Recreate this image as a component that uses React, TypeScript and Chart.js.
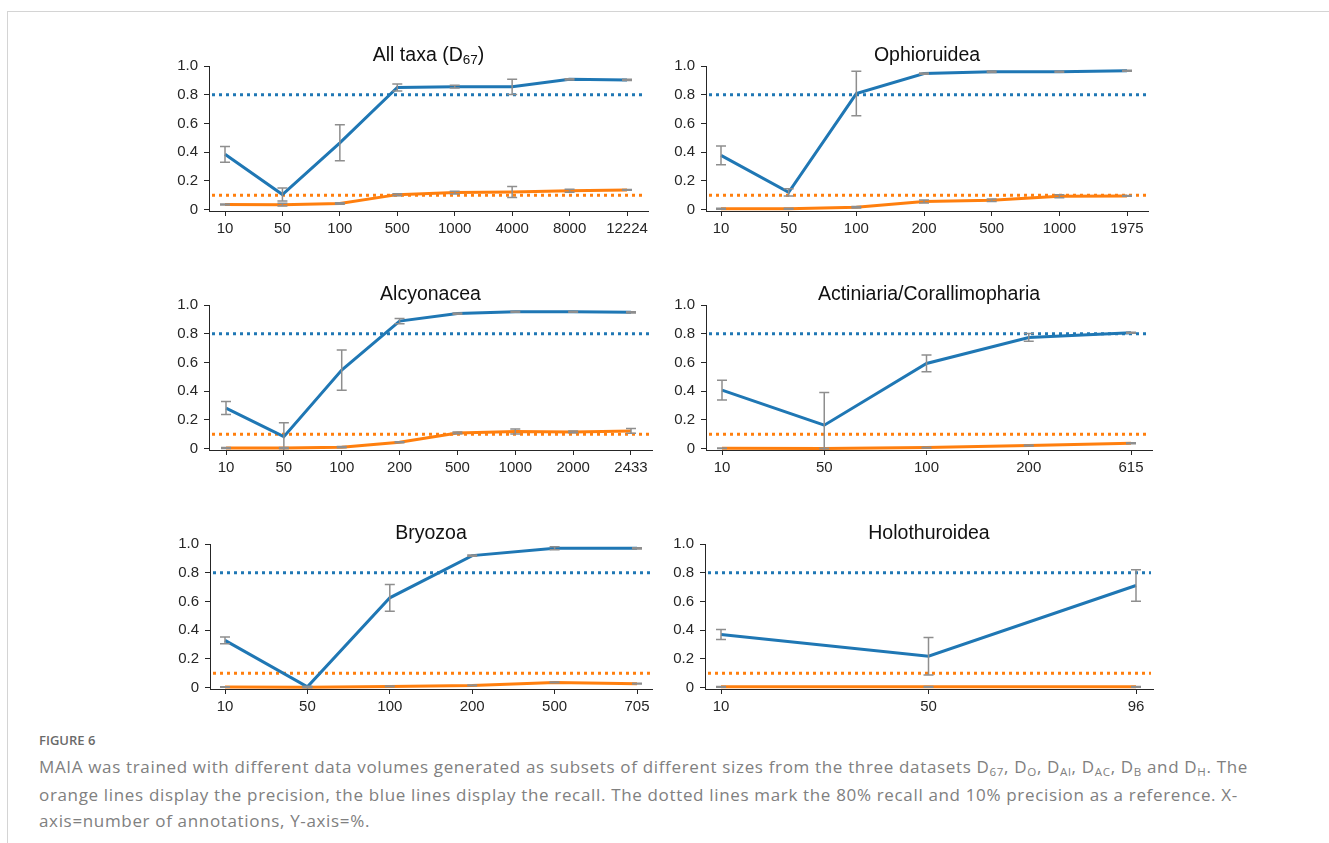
import React, { useEffect, useRef } from "react";
import { Chart, registerables } from "chart.js";

Chart.register(...registerables);

// ---------- styling constants ----------
const RECALL_COLOR = "#1f77b4";
const PRECISION_COLOR = "#ff7f0e";
const ERR_COLOR = "#8e8e8e";
const AXIS_COLOR = "#262626";
const FONT = "'Liberation Sans', Arial, Helvetica, sans-serif";

// reference thresholds
const RECALL_REF = 0.8;
const PRECISION_REF = 0.1;
const Y_TICKS = [0, 0.2, 0.4, 0.6, 0.8, 1.0];

// ---------- data ----------
// All taxa (D67)
const allTaxaLabels = ["10", "50", "100", "500", "1000", "4000", "8000", "12224"];
const allTaxaRecall = [0.385, 0.105, 0.465, 0.85, 0.856, 0.855, 0.907, 0.903];
const allTaxaRecallErr = [0.055, 0.045, 0.125, 0.024, 0.01, 0.053, 0.005, 0.004];
const allTaxaPrecision = [0.035, 0.034, 0.042, 0.104, 0.118, 0.122, 0.131, 0.137];
const allTaxaPrecisionErr = [0.003, 0.01, 0.005, 0.007, 0.01, 0.038, 0.01, 0.003];

// Ophioruidea
const ophLabels = ["10", "50", "100", "200", "500", "1000", "1975"];
const ophRecall = [0.377, 0.12, 0.808, 0.947, 0.96, 0.96, 0.967];
const ophRecallErr = [0.065, 0.025, 0.155, 0.004, 0.005, 0.004, 0.003];
const ophPrecision = [0.006, 0.006, 0.016, 0.056, 0.065, 0.093, 0.095];
const ophPrecisionErr = [0.003, 0.004, 0.005, 0.01, 0.008, 0.01, 0.003];

// Alcyonacea
const alcLabels = ["10", "50", "100", "200", "500", "1000", "2000", "2433"];
const alcRecall = [0.282, 0.083, 0.547, 0.888, 0.94, 0.953, 0.953, 0.949];
const alcRecallErr = [0.045, 0.097, 0.14, 0.018, 0.004, 0.004, 0.004, 0.004];
const alcPrecision = [0.004, 0.004, 0.01, 0.044, 0.109, 0.119, 0.116, 0.123];
const alcPrecisionErr = [0.003, 0.003, 0.004, 0.004, 0.006, 0.018, 0.006, 0.017];

// Actiniaria/Corallimopharia
const actLabels = ["10", "50", "100", "200", "615"];
const actRecall = [0.407, 0.163, 0.593, 0.774, 0.807];
const actRecallErr = [0.068, 0.228, 0.058, 0.027, 0.004];
const actPrecision = [0.002, 0.0, 0.007, 0.021, 0.037];
const actPrecisionErr = [0.002, 0.002, 0.003, 0.003, 0.003];

// Bryozoa
const bryLabels = ["10", "50", "100", "200", "500", "705"];
const bryRecall = [0.329, 0.005, 0.625, 0.919, 0.97, 0.97];
const bryRecallErr = [0.024, 0.004, 0.093, 0.004, 0.01, 0.004];
const bryPrecision = [0.004, 0.002, 0.008, 0.015, 0.036, 0.027];
const bryPrecisionErr = [0.002, 0.002, 0.003, 0.003, 0.003, 0.003];

// Holothuroidea
const holLabels = ["10", "50", "96"];
const holRecall = [0.369, 0.218, 0.711];
const holRecallErr = [0.035, 0.13, 0.11];
const holPrecision = [0.005, 0.005, 0.005];
const holPrecisionErr = [0.002, 0.002, 0.002];

type TitlePart = { text: string; sub?: boolean };

const PANELS = [
  {
    title: [{ text: "All taxa (D" }, { text: "67", sub: true }, { text: ")" }] as TitlePart[],
    labels: allTaxaLabels, recall: allTaxaRecall, recallErr: allTaxaRecallErr,
    precision: allTaxaPrecision, precisionErr: allTaxaPrecisionErr,
  },
  {
    title: [{ text: "Ophioruidea" }] as TitlePart[],
    labels: ophLabels, recall: ophRecall, recallErr: ophRecallErr,
    precision: ophPrecision, precisionErr: ophPrecisionErr,
  },
  {
    title: [{ text: "Alcyonacea" }] as TitlePart[],
    labels: alcLabels, recall: alcRecall, recallErr: alcRecallErr,
    precision: alcPrecision, precisionErr: alcPrecisionErr,
  },
  {
    title: [{ text: "Actiniaria/Corallimopharia" }] as TitlePart[],
    labels: actLabels, recall: actRecall, recallErr: actRecallErr,
    precision: actPrecision, precisionErr: actPrecisionErr,
  },
  {
    title: [{ text: "Bryozoa" }] as TitlePart[],
    labels: bryLabels, recall: bryRecall, recallErr: bryRecallErr,
    precision: bryPrecision, precisionErr: bryPrecisionErr,
  },
  {
    title: [{ text: "Holothuroidea" }] as TitlePart[],
    labels: holLabels, recall: holRecall, recallErr: holRecallErr,
    precision: holPrecision, precisionErr: holPrecisionErr,
  },
];

// ---------- layout (pixel geometry of each plot area) ----------
const PLOT_H = 145;
const BOXES = [
  { left: 209, right: 648, top: 66, padL: 16, padR: 21 },
  { left: 706, right: 1148, top: 66, padL: 15, padR: 21 },
  { left: 209, right: 652, top: 305, padL: 17, padR: 21 },
  { left: 706, right: 1152, top: 305, padL: 16, padR: 21 },
  { left: 210, right: 652, top: 544, padL: 15, padR: 15 },
  { left: 705, right: 1153, top: 544, padL: 16, padR: 17 },
];
const AXIS_W = 70;
const TITLE_H = 40;
const XAXIS_H = 35;
const RIGHT_PAD = 15;

const refLinesPlugin = {
  id: "refLines",
  beforeDatasetsDraw(chart: any) {
    const { ctx, chartArea, scales } = chart;
    const y = scales.y;
    const lines = [
      { v: RECALL_REF, c: RECALL_COLOR },
      { v: PRECISION_REF, c: PRECISION_COLOR },
    ];
    ctx.save();
    ctx.lineWidth = 3;
    ctx.setLineDash([3, 4]);
    for (const l of lines) {
      const py = y.getPixelForValue(l.v);
      ctx.strokeStyle = l.c;
      ctx.beginPath();
      ctx.moveTo(chartArea.left + 3, py);
      ctx.lineTo(chartArea.right - 2, py);
      ctx.stroke();
    }
    ctx.restore();
  },
};

const errorBarPlugin = {
  id: "errorBars",
  afterDatasetsDraw(chart: any) {
    const { ctx, chartArea, scales } = chart;
    const xs = scales.x;
    const ys = scales.y;
    ctx.save();
    ctx.beginPath();
    ctx.rect(chartArea.left - 10, chartArea.top - 2, chartArea.right - chartArea.left + 20, chartArea.bottom - chartArea.top + 2);
    ctx.clip();
    ctx.strokeStyle = ERR_COLOR;
    ctx.lineWidth = 1.5;
    chart.data.datasets.forEach((ds: any) => {
      if (!ds.errors) return;
      ds.data.forEach((pt: any, i: number) => {
        const e = ds.errors[i];
        const px = xs.getPixelForValue(pt.x);
        const top = ys.getPixelForValue(pt.y + e);
        const bot = ys.getPixelForValue(pt.y - e);
        ctx.beginPath();
        ctx.moveTo(px, top);
        ctx.lineTo(px, bot);
        ctx.moveTo(px - 5, top);
        ctx.lineTo(px + 5, top);
        ctx.moveTo(px - 5, bot);
        ctx.lineTo(px + 5, bot);
        ctx.stroke();
      });
    });
    ctx.restore();
  },
};

const titlePlugin = {
  id: "panelTitle",
  afterDraw(chart: any, _args: any, opts: any) {
    const parts: TitlePart[] = opts.parts || [];
    const { ctx, chartArea } = chart;
    const mainFont = `19.5px ${FONT}`;
    const subFont = `13.5px ${FONT}`;
    ctx.save();
    let total = 0;
    for (const p of parts) {
      ctx.font = p.sub ? subFont : mainFont;
      total += ctx.measureText(p.text).width;
    }
    let x = (chartArea.left + chartArea.right) / 2 - total / 2;
    const base = chartArea.top - 5.5;
    ctx.fillStyle = "#111";
    ctx.textBaseline = "alphabetic";
    ctx.textAlign = "left";
    for (const p of parts) {
      ctx.font = p.sub ? subFont : mainFont;
      ctx.fillText(p.text, x, p.sub ? base + 3.5 : base);
      x += ctx.measureText(p.text).width;
    }
    ctx.restore();
  },
};

function Panel({ idx }: { idx: number }) {
  const ref = useRef<HTMLCanvasElement | null>(null);
  const p = PANELS[idx];
  const b = BOXES[idx];
  const width = b.right - b.left + AXIS_W + RIGHT_PAD;
  const height = PLOT_H + TITLE_H + XAXIS_H;

  useEffect(() => {
    if (!ref.current) return;
    const n = p.labels.length;
    const unit = (b.right - b.left - b.padL - b.padR) / (n - 1);
    const xMin = -b.padL / unit;
    const xMax = n - 1 + b.padR / unit;
    const toPts = (arr: number[]) => arr.map((v, i) => ({ x: i, y: v }));

    const chart = new Chart(ref.current, {
      type: "line",
      data: {
        datasets: [
          {
            label: "Recall",
            data: toPts(p.recall),
            errors: p.recallErr,
            borderColor: RECALL_COLOR,
            backgroundColor: RECALL_COLOR,
            borderWidth: 3,
            pointRadius: 0,
            tension: 0,
            fill: false,
            clip: false,
          } as any,
          {
            label: "Precision",
            data: toPts(p.precision),
            errors: p.precisionErr,
            borderColor: PRECISION_COLOR,
            backgroundColor: PRECISION_COLOR,
            borderWidth: 3,
            pointRadius: 0,
            tension: 0,
            fill: false,
            clip: false,
          } as any,
        ],
      },
      options: {
        animation: false,
        responsive: false,
        maintainAspectRatio: false,
        events: [],
        layout: { padding: { top: TITLE_H, right: RIGHT_PAD, left: 0, bottom: 0 } },
        plugins: {
          legend: { display: false },
          tooltip: { enabled: false },
          title: { display: false },
          panelTitle: { parts: p.title },
        } as any,
        scales: {
          x: {
            type: "linear",
            min: xMin,
            max: xMax,
            afterBuildTicks: (scale: any) => {
              scale.ticks = p.labels.map((_, i) => ({ value: i }));
            },
            afterFit: (scale: any) => {
              scale.height = XAXIS_H;
            },
            ticks: {
              autoSkip: false,
              maxRotation: 0,
              padding: 4,
              color: AXIS_COLOR,
              font: { family: FONT, size: 15 },
              callback: (v: any) => p.labels[Math.round(Number(v))] ?? "",
            },
            grid: {
              display: true,
              drawOnChartArea: false,
              drawTicks: true,
              tickLength: 5,
              color: AXIS_COLOR,
              lineWidth: 1,
            },
            border: { display: true, color: AXIS_COLOR, width: 1 },
          },
          y: {
            type: "linear",
            min: -0.01,
            max: 1.0,
            afterBuildTicks: (scale: any) => {
              scale.ticks = Y_TICKS.map((v) => ({ value: v }));
            },
            afterFit: (scale: any) => {
              scale.width = AXIS_W;
            },
            ticks: {
              padding: 6,
              color: AXIS_COLOR,
              font: { family: FONT, size: 15 },
              callback: (v: any) => (Number(v) === 0 ? "0" : Number(v).toFixed(1)),
            },
            grid: {
              display: true,
              drawOnChartArea: false,
              drawTicks: true,
              tickLength: 5,
              color: AXIS_COLOR,
              lineWidth: 1,
            },
            border: { display: true, color: AXIS_COLOR, width: 1 },
          },
        },
      } as any,
      plugins: [refLinesPlugin, errorBarPlugin, titlePlugin],
    });
    return () => chart.destroy();
  }, [idx]);

  return (
    <canvas
      ref={ref}
      width={width}
      height={height}
      style={{
        position: "absolute",
        left: b.left - AXIS_W,
        top: b.top - TITLE_H,
        width,
        height,
      }}
    />
  );
}

const CAPTION_FONT = "'Open Sans', 'Noto Sans', sans-serif";
const subStyle: React.CSSProperties = {
  fontSize: "0.68em",
  verticalAlign: "baseline",
  position: "relative",
  top: "0.3em",
};

function D({ s }: { s: string }) {
  return (
    <span>
      D<span style={subStyle}>{s}</span>
    </span>
  );
}

export default function App() {
  return (
    <div
      style={{
        position: "absolute",
        left: 0,
        top: 0,
        width: 1329,
        height: 843,
        background: "#fff",
        overflow: "hidden",
      }}
    >
      <div
        style={{
          position: "absolute",
          left: 7,
          top: 11,
          width: 1340,
          height: 850,
          borderLeft: "1px solid #d4d4d4",
          borderTop: "1px solid #d4d4d4",
        }}
      />
      {PANELS.map((_, i) => (
        <Panel key={i} idx={i} />
      ))}
      <div
        style={{
          position: "absolute",
          left: 39,
          top: 731,
          fontFamily: CAPTION_FONT,
          fontSize: 13,
          fontWeight: 600,
          color: "#6a6a6a",
          whiteSpace: "nowrap",
          lineHeight: "18px",
        }}
      >
        FIGURE 6
      </div>
      <div
        style={{
          position: "absolute",
          left: 39,
          top: 754,
          fontFamily: CAPTION_FONT,
          fontSize: 17,
          letterSpacing: "0.66px",
          color: "#808080",
          whiteSpace: "nowrap",
          lineHeight: "26px",
        }}
      >
        <div>
          MAIA was trained with different data volumes generated as subsets of different sizes from the three datasets <D s="67" />, <D s="O" />, <D s="Al" />, <D s="AC" />, <D s="B" /> and <D s="H" />. The
        </div>
        <div>
          orange lines display the precision, the blue lines display the recall. The dotted lines mark the 80% recall and 10% precision as a reference. X-
        </div>
        <div>axis=number of annotations, Y-axis=%.</div>
      </div>
    </div>
  );
}
